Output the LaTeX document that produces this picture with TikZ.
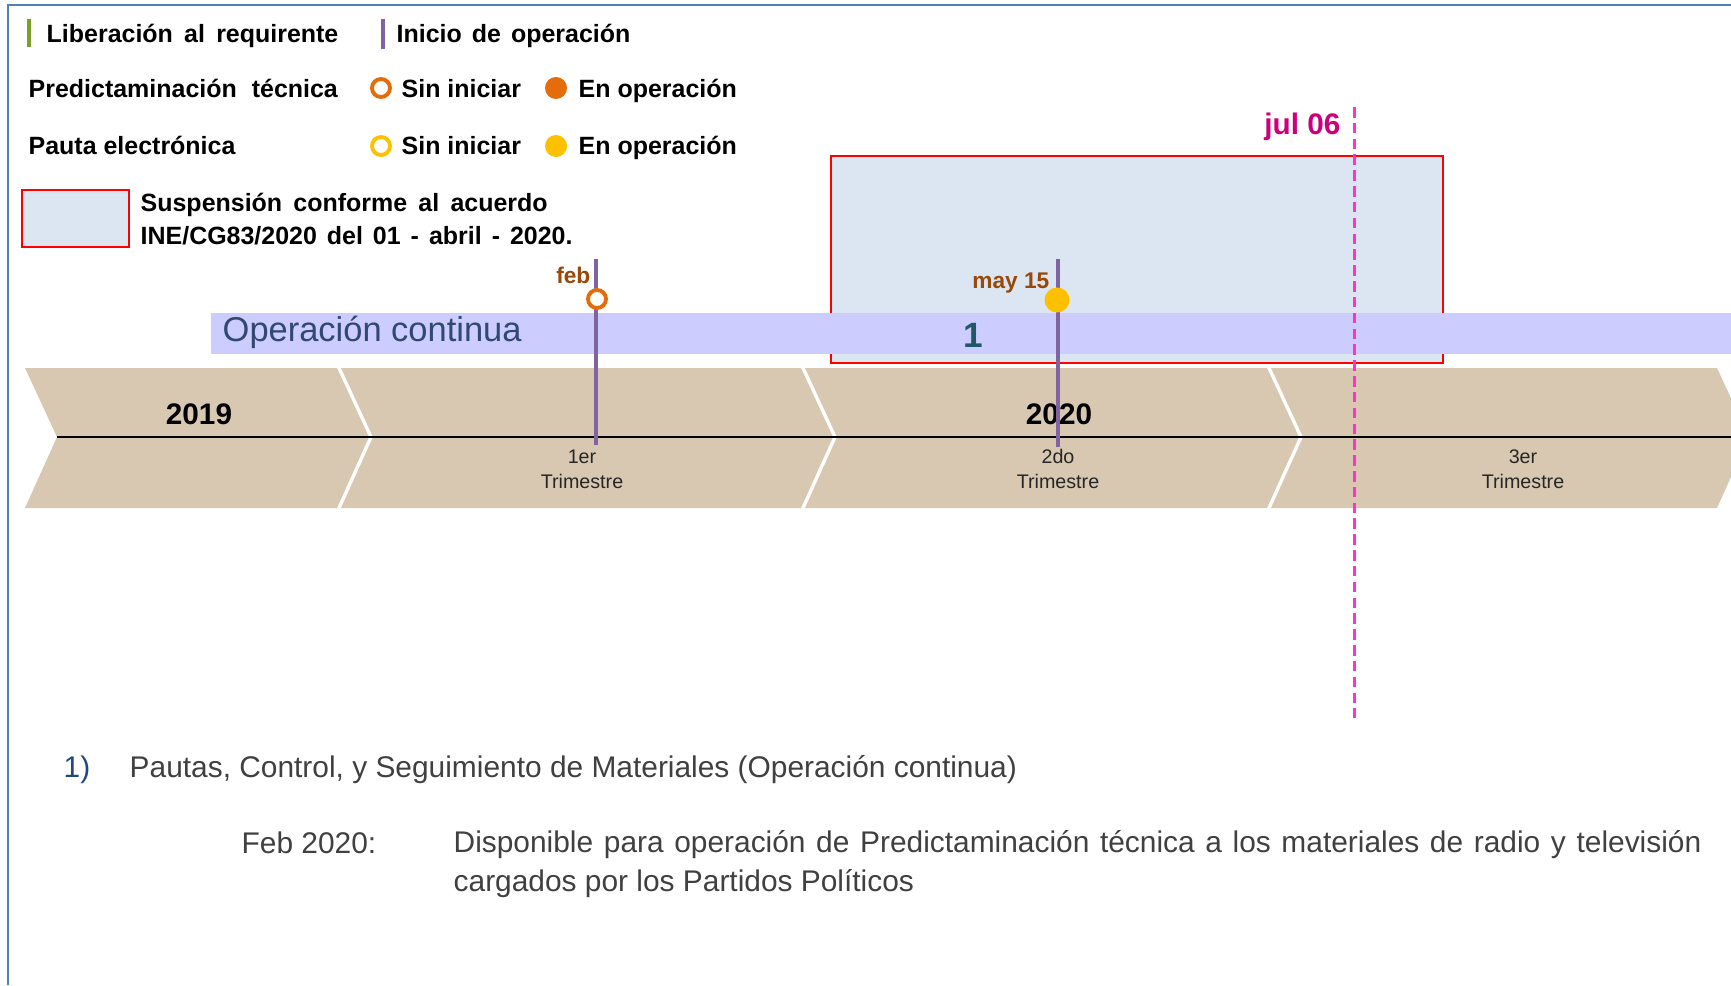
\documentclass[tikz,border=0pt]{standalone}
\usepackage{fontspec}
\setmainfont{Liberation Sans}
\usepackage{xcolor}
\usepackage{tikz}
\usetikzlibrary{positioning, calc}
\definecolor{cFrame}{RGB}{79,129,189}
\definecolor{cGreenBar}{RGB}{122,160,40}
\definecolor{cPurple}{RGB}{128,100,162}
\definecolor{cOrange}{RGB}{228,108,10}
\definecolor{cYellow}{RGB}{255,192,0}
\definecolor{cSusp}{RGB}{220,230,242}
\definecolor{cBand}{RGB}{204,204,255}
\definecolor{cBandTxt}{RGB}{49,73,110}
\definecolor{cOne}{RGB}{33,88,104}
\definecolor{cTan}{RGB}{216,200,177}
\definecolor{cBrown}{RGB}{152,72,7}
\definecolor{cJul}{RGB}{204,0,122}
\definecolor{cDash}{RGB}{255,51,204}
\definecolor{cNum}{RGB}{31,73,125}
\definecolor{cBody}{RGB}{64,64,64}
\tikzset{
	legtxt/.style  ={anchor=base west, inner sep=0pt, font=\fontsize{7.1}{8.5}\selectfont\bfseries},
	widesp/.style  ={execute at begin node={\spaceskip=#1em\relax}},
	bodytxt/.style ={anchor=base west, inner sep=0pt, text=cBody, font=\fontsize{8.5}{11.1}\selectfont},
	ring/.style    ={circle, draw=#1, line width=1.1pt, fill=white, minimum size=0.18cm, inner sep=0pt},
	dot/.style     ={circle, fill=#1, minimum size=0.22cm, inner sep=0pt},
	suspbox/.style ={rectangle, draw=red, fill=cSusp, line width=0.6pt, inner sep=0pt, anchor=north west},
	opline/.style  ={draw=cPurple, line width=1.1pt},
	datetxt/.style ={anchor=base east, inner sep=0pt, text=cBrown, font=\fontsize{6.45}{7.5}\selectfont\bfseries},
}

\begin{document}
\begin{tikzpicture}[x=0.01cm, y=-0.01cm, every node/.style={inner sep=0pt},
					yeartxt/.style={anchor=base, font=\fontsize{8.45}{10}\selectfont\bfseries},
					trimtxt/.style={anchor=north, align=center, text=black!85, font=\fontsize{5.6}{7.1}\selectfont}]
	\useasboundingbox (0,0) rectangle (1731,985);
	\draw[cFrame, line width=0.6pt] (8,985) -- (8,5) -- (1731,5);
	% legend
	\draw[cGreenBar, line width=1.1pt] (29,19) -- (29,47);
	\node[legtxt, widesp=0.45] (lib) at (46,43) {Liberación al requirente};
	\draw[cPurple, line width=1.1pt] (383,19) -- (383,49);
	\node[legtxt, widesp=0.4] (ini) at (396,43) {Inicio de operación};
	\node[legtxt, widesp=0.6] (pre) at (28,98) {Predictaminación técnica};
	\node[ring=cOrange] (preRing) at (381,88) {};
	\node[legtxt] (preSin) at (401,98) {Sin iniciar};
	\node[dot=cOrange] (preDot) at (556,88) {};
	\node[legtxt] (preOp) at (578,98) {En operación};
	\node[legtxt] (pau) at (28,155) {Pauta electrónica};
	\node[ring=cYellow] (pauRing) at (381,146) {};
	\node[legtxt] (pauSin) at (401,155) {Sin iniciar};
	\node[dot=cYellow] (pauDot) at (556,146) {};
	\node[legtxt] (pauOp) at (578,155) {En operación};
	\node[suspbox, minimum width=1.07cm, minimum height=0.57cm] (legBox) at (21,189) {};
	\node[legtxt, widesp=0.45] (sus1) at (140,212) {Suspensión conforme al acuerdo};
	\node[legtxt, widesp=0.4] (sus2) at (140,245) {INE/CG83/2020 del 01 - abril - 2020.};
	% timeline
	\node[suspbox, minimum width=6.12cm, minimum height=2.07cm] (susp) at (830,155) {};
	\node[rectangle, fill=cBand, anchor=north west, minimum width=15.21cm, minimum height=0.41cm] (band) at (210,312) {};
	\node[anchor=base west, text=cBandTxt, font=\fontsize{9.8}{11}\selectfont] (opc) at (222,341) {Operación continua};
	\node[anchor=base, text=cOne, font=\fontsize{10}{11}\selectfont\bfseries] (one) at (973,347) {1};
	\foreach \l/\r in {25/337, 341/801, 805/1267, 1271/1717}
		\fill[cTan] (\l,368) -- (\r,368) -- (\r+32,437) -- (\r,508) -- (\l,508) -- (\l+32,437) -- cycle;
	\draw[black, line width=0.85pt] (57,437) -- (1731,437);
	\node[yeartxt] (y19) at (199,424) {2019};
	\node[yeartxt] (y20) at (1059,424) {2020};
	\node[trimtxt] (t1) at (582,449) {1er\\Trimestre};
	\node[trimtxt] (t2) at (1058,449) {2do\\Trimestre};
	\node[trimtxt] (t3) at (1523,449) {3er\\Trimestre};
	\coordinate (febTop) at (596,259);
	\coordinate (febBot) at (596,445);
	\coordinate (mayTop) at (1058,259);
	\coordinate (mayBot) at (1058,447);
	\draw[opline] (febTop) -- (febBot);
	\draw[opline] (mayTop) -- (mayBot);
	\node[ring=cOrange] (febRing) at (597,299) {};
	\node[dot=cYellow, minimum size=0.25cm] (mayDot) at (1057,300) {};
	\node[datetxt] (feb) at (591,283) {feb};
	\node[datetxt] (may) at (1050,288) {may 15};
	\coordinate (julTop) at (1354,107);
	\coordinate (julBot) at (1354,718);
	\draw[cDash, line width=0.85pt, dash pattern=on 3pt off 1.5pt] (julTop) -- (julBot);
	\node[anchor=base east, text=cJul, font=\fontsize{8.45}{10}\selectfont\bfseries] (jul) at (1341,135) {jul 06};
	% notes
	\node[bodytxt, text=cNum] (num) at (63,777) {1)};
	\node[bodytxt] (item) at (129,777) {Pautas, Control, y Seguimiento de Materiales (Operación continua)};
	\node[bodytxt] (fecha) at (241,853) {Feb 2020:};
	\node[bodytxt, anchor=north west, text width=12.47cm, align=justify] (desc) at (453,830) {Disponible para operación de Predictaminación técnica a los materiales de radio y televisión cargados por los Partidos Políticos};
\end{tikzpicture}
\end{document}
